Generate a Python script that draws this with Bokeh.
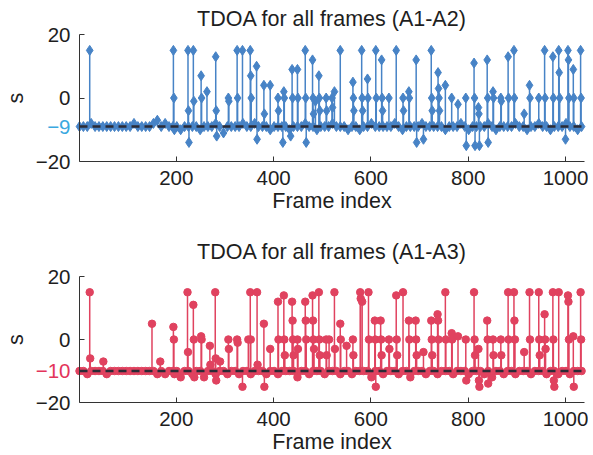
from bokeh.plotting import figure
from bokeh.layouts import column
from bokeh.models import Range1d, FixedTicker, LinearAxis
from bokeh.core.properties import value
from bokeh.embed import file_html
from bokeh.resources import INLINE

# ---------------- data ----------------
x_ticks = [200, 400, 600, 800, 1000]
y_ticks = [-20, 0, 20]
y_min, y_max = -20, 20
n_frames = 1039

base_a2 = -9
base_a3 = -10

band_frames = list(range(1, n_frames, 8))

band_a2 = [
    -9, -9, -9, -8, -9, -9, -9, -9, -9, -9,
    -9, -9, -9, -9, -8, -9, -9, -9, -9, -8,
    -7, -9, -8, -9, -9, -9, -10, -9, -9, -9,
    -9, -10, -9, -9, -9, -8, -9, -11, -9, -9,
    -9, -9, -8, -9, -9, -8, -9, -9, -9, -10,
    -9, -9, -9, -9, -10, -9, -9, -9, -8, -9,
    -9, -10, -9, -9, -9, -8, -9, -9, -9, -10,
    -9, -9, -10, -9, -9, -8, -9, -9, -9, -9,
    -9, -8, -9, -10, -9, -9, -9, -9, -8, -9,
    -9, -9, -9, -9, -10, -9, -9, -9, -8, -9,
    -10, -9, -9, -9, -9, -8, -9, -10, -9, -9,
    -9, -9, -8, -9, -9, -10, -9, -9, -8, -9,
    -9, -10, -9, -9, -9, -8, -9, -9, -10, -9,
]

band_a3 = [
    -10, -10, -11, -10, -10, -10, -10, -11, -10, -10,
    -10, -10, -10, -10, -10, -10, -10, -10, -10, -10,
    -11, -10, -11, -10, -10, -10, -12, -10, -10, -11,
    -10, -10, -12, -10, -10, -11, -10, -10, -11, -10,
    -10, -11, -10, -10, -11, -10, -10, -10, -11, -10,
    -10, -11, -10, -10, -10, -10, -12, -10, -10, -11,
    -10, -10, -10, -11, -10, -10, -10, -11, -10, -10,
    -11, -10, -10, -10, -10, -12, -10, -10, -11, -10,
    -10, -10, -11, -10, -10, -12, -10, -10, -10, -11,
    -10, -10, -11, -10, -10, -10, -11, -10, -10, -10,
    -11, -10, -10, -10, -11, -10, -12, -10, -10, -11,
    -10, -10, -11, -10, -10, -10, -11, -10, -10, -10,
    -11, -10, -10, -11, -10, -10, -11, -10, -10, -10,
]

spike_frames_a2 = [
    22, 194, 195, 196, 224, 225, 226, 235, 236, 251, 252, 263, 281, 282, 283,
    307, 308, 325, 326, 336, 352, 353, 354, 365, 366, 380, 381, 393, 409, 410,
    419, 421, 422, 435, 438, 439, 449, 450, 465, 466, 467, 480, 481, 482, 486,
    493, 494, 495, 508, 509, 520, 521, 525, 537, 563, 564, 565, 581, 582, 583,
    593, 594, 610, 611, 622, 623, 624, 637, 652, 666, 667, 678, 679, 693, 694,
    708, 724, 725, 726, 738, 739, 740, 741, 753, 766, 779, 795, 796, 812, 813,
    814, 821, 822, 823, 839, 840, 841, 851, 852, 867, 868, 882, 883, 894, 895,
    915, 926, 927, 945, 957, 958, 974, 975, 986, 987, 988, 1000, 1005, 1006, 1007,
    1016, 1017, 1031, 1032,
]
spike_values_a2 = [
    15, 15, 0, -10, 15, -4, -14, 15, -1, 7, 0, 2, 13, -4, -12,
    0, -1, 15, 0, 15, 15, 7, 0, 10, -13, 4, -5, 4, 0, -4,
    -14, 2, 0, -12, 9, 0, 9, 0, 15, 0, -14, 12, 0, -5, -1,
    7, 0, -4, 0, -4, 0, -3, 2, 15, 5, 0, -4, 15, 0, -4,
    6, 0, 15, 0, 12, 0, -4, 0, 15, 0, -4, 2, 0, 12, -14,
    -13, 15, 0, -4, 8, 3, 0, -4, 4, 0, -2, 0, -15, 11, 0,
    -15, -3, -5, -15, 12, 0, -14, 2, 0, 0, -1, 13, 0, 15, 0,
    -5, 4, 0, 0, 15, 0, 13, 0, 15, 8, 0, -13, 15, 12, 0,
    9, 0, 15, 0,
]

spike_frames_a3 = [
    22, 23, 50, 150, 167, 194, 195, 196, 223, 224, 235, 236, 237, 251, 252,
    269, 270, 280, 281, 282, 290, 307, 308, 325, 326, 336, 348, 352, 353, 366,
    367, 380, 381, 393, 409, 410, 421, 422, 423, 438, 439, 440, 441, 449, 450,
    465, 466, 467, 480, 481, 482, 483, 493, 494, 495, 508, 509, 514, 525, 526,
    537, 538, 550, 563, 564, 578, 579, 582, 595, 596, 608, 609, 610, 620, 621,
    622, 637, 638, 652, 653, 654, 666, 678, 679, 692, 693, 694, 708, 724, 725,
    726, 737, 738, 739, 753, 754, 766, 767, 779, 795, 796, 812, 813, 814, 821,
    822, 823, 839, 840, 841, 851, 852, 867, 868, 882, 883, 894, 895, 896, 915,
    926, 927, 945, 946, 947, 957, 958, 959, 974, 975, 976, 977, 986, 1005, 1006,
    1007, 1016, 1017, 1031, 1032,
]
spike_values_a3 = [
    15, -6, -7, 5, -7, 4, 0, -11, 15, -4, 11, 0, -12, 1, 0,
    -2, -8, 15, -6, -13, -7, 0, -3, 0, -1, -15, 0, 15, 0, 15,
    -8, 5, -15, -3, 12, 0, 14, 0, -5, 12, 6, 0, -5, 0, -3,
    12, 6, 0, 14, 6, 0, -3, 15, 0, -5, 0, -5, 0, 15, -3,
    5, 0, -2, 0, -5, 15, 13, 12, 15, 0, 6, 0, -15, 6, 0,
    -5, 0, -3, 14, 0, -5, 15, 6, 0, 6, 0, -5, -4, 6, 0,
    -5, 8, 6, 0, 15, 0, 2, 0, 1, 0, -13, 15, 0, -5, -3,
    -13, -15, 6, 0, -14, 0, -5, 0, -5, 15, 0, 15, 6, 0, -4,
    15, 0, 15, 0, -5, 8, 0, -3, 15, 0, -13, -15, 15, 14, 12,
    0, 1, -15, 15, 0,
]

FONT = "Liberation Sans"
TXT = "#1e1e1e"
AX = "#333333"
FS_TICK = "20.5px"
FS_TEXT = "21.5px"

# ---------------- layout (pixels) ----------------
FIG_W = 588
AXIS_PX = 79      # canvas x of the y axis
PLOT_PX = 505     # width of the data area
x_per_px = (n_frames - 1) / PLOT_PX
x_lo = 1 - AXIS_PX * x_per_px
x_hi = n_frames + (FIG_W - AXIS_PX - PLOT_PX) * x_per_px


def style_axis(ax):
    ax.major_tick_in = 5
    ax.major_tick_out = 0
    ax.minor_tick_line_color = None
    ax.axis_line_color = AX
    ax.major_tick_line_color = AX
    ax.major_label_text_font = FONT
    ax.major_label_text_font_size = FS_TICK
    ax.major_label_text_color = TXT
    ax.axis_label_text_font = FONT
    ax.axis_label_text_font_size = FS_TEXT
    ax.axis_label_text_font_style = "normal"
    ax.axis_label_text_color = TXT


def make_panel(title, frames, values, base, color, base_label_color, marker,
               msize, fig_h, top_px, plot_h, title_gap):
    # top_px: canvas y of y=20 ; plot_h: pixels from y=20 to y=-20
    y_per_px = (y_max - y_min) / plot_h
    y_hi = y_max + top_px * y_per_px
    y_lo = y_min - (fig_h - top_px - plot_h) * y_per_px

    p = figure(width=FIG_W, height=fig_h,
               x_range=Range1d(x_lo, x_hi), y_range=Range1d(y_lo, y_hi),
               output_backend="svg", toolbar_location=None,
               min_border=0, x_axis_location=None, y_axis_location=None)
    p.outline_line_color = None
    p.grid.visible = False
    p.background_fill_color = "white"
    p.border_fill_color = "white"

    # stems, markers, dashed base line
    p.segment(x0=frames, y0=[base] * len(frames), x1=frames, y1=values,
              line_color=color, line_width=1.5)
    p.scatter(frames, values, marker=marker, size=msize,
              fill_color=color, line_color=color)
    p.segment(x0=[1], y0=[base], x1=[n_frames], y1=[base],
              line_color="#2b2b36", line_width=2.5, line_dash="8 5")

    # title
    p.text(x=[(1 + n_frames) / 2], y=[y_max + title_gap * y_per_px],
           text=[title], text_align="center", text_baseline="middle",
           text_font=value(FONT), text_font_size=value(FS_TEXT),
           text_color=TXT)

    # x axis at y = -20
    xa = LinearAxis(fixed_location=y_min, bounds=(1, n_frames),
                    ticker=FixedTicker(ticks=x_ticks), axis_label="Frame index")
    style_axis(xa)
    xa.major_label_standoff = 9
    xa.axis_label_standoff = 1
    p.add_layout(xa, "below")

    # y axis at x = 1
    ya = LinearAxis(fixed_location=1, bounds=(y_min, y_max),
                    ticker=FixedTicker(ticks=y_ticks), axis_label="s",
                    major_label_overrides={-20: "\u221220", 0: "0", 20: "20"})
    style_axis(ya)
    ya.major_label_standoff = 9
    ya.axis_label_standoff = 5
    p.add_layout(ya, "left")

    # coloured base-value tick label
    ba = LinearAxis(fixed_location=1, ticker=FixedTicker(ticks=[base]),
                    major_label_overrides={base: "\u2212" + str(abs(base))})
    style_axis(ba)
    ba.axis_line_color = None
    ba.major_tick_line_color = None
    ba.major_label_text_color = base_label_color
    ba.major_label_standoff = 9
    p.add_layout(ba, "left")
    return p


p1 = make_panel("TDOA for all frames (A1-A2)",
                band_frames + spike_frames_a2, band_a2 + spike_values_a2,
                base_a2, "#4783c6", "#3aa8e0", "diamond", 10,
                236, 34, 127, 15.3)
p2 = make_panel("TDOA for all frames (A1-A3)",
                band_frames + spike_frames_a3, band_a3 + spike_values_a3,
                base_a3, "#e0425f", "#e3345a", "circle", 7.5,
                218, 40, 126, 24.2)

layout = column(p1, p2, spacing=0)
open("out.html", "w").write(file_html(layout, INLINE))
